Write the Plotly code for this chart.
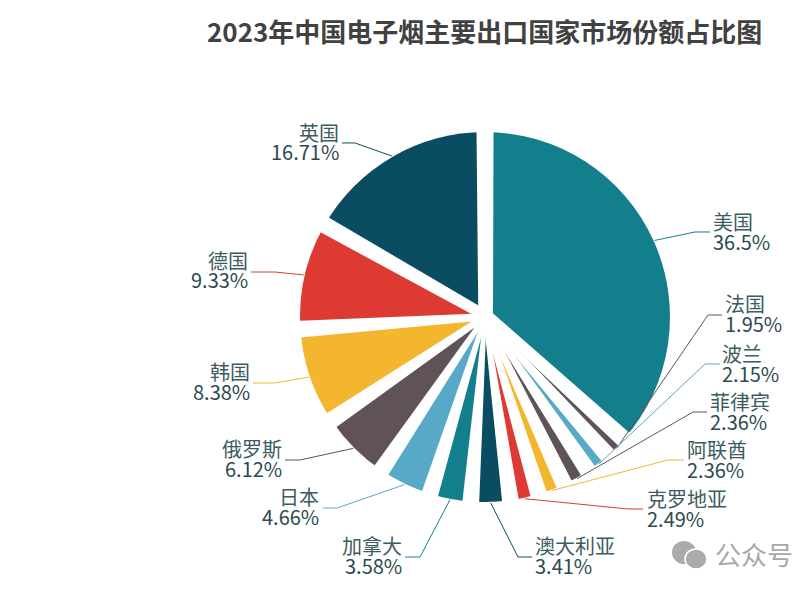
import math
import plotly.graph_objs as go

W = 802
H = 593

countries = ['美国', '法国', '波兰', '菲律宾', '阿联酋', '克罗地亚', '澳大利亚', '加拿大', '日本', '俄罗斯', '韩国', '德国', '英国']
shares = [36.5, 1.95, 2.15, 2.36, 2.36, 2.49, 3.41, 3.58, 4.66, 6.12, 8.38, 9.33, 16.71]

NAVY = '#0a4d63'
TEAL = '#137f8d'
BLUE = '#58a9c8'
GREY = '#5f5359'
YELLOW = '#f4b52f'
RED = '#dc3a33'
slice_colors = [TEAL, GREY, BLUE, GREY, YELLOW, RED, NAVY, TEAL, BLUE, GREY, YELLOW, RED, NAVY]

# label layout in pixels: text edge, text centre y, elbow x, elbow y, line end x
label_spots = [
    (711, 231, 695, 232, 710),
    (723, 313, 708, 315, 722),
    (720, 363, 705, 364, 720),
    (708, 411, 693, 412, 707),
    (685, 459, 668, 460, 684),
    (645, 508, 628, 509, 643),
    (533, 555, 518, 557, 532),
    (404, 555, 420, 557, 405),
    (321, 506, 337, 508, 323),
    (284, 458, 300, 460, 285),
    (252, 381, 275, 383, 253),
    (250, 270, 275, 272, 251),
    (341, 142, 355, 143, 342),
]

CX = 485
CY = 317
R = 185


def px(x):
    return x / W


def py(y):
    return 1 - y / H


def half_gap(share):
    # the gaps are nearly parallel beside big slices and taper beside small ones
    return min(8, max(1.65, share * 0.4))


def gap_shape(turn, before, after):
    # white strip laid over the border between two slices
    angle = math.radians(turn * 3.6)
    ux, uy = math.sin(angle), -math.cos(angle)
    vx, vy = math.cos(angle), math.sin(angle)
    far = R + 6
    rim = 8.3 * far / R
    corners = [(0, half_gap(after)), (far, rim), (far, -rim), (0, -half_gap(before))]
    points = [(CX + r * ux + s * vx, CY + r * uy + s * vy) for r, s in corners]
    path = 'M ' + ' L '.join('%.4f %.4f' % (px(x), py(y)) for x, y in points) + ' Z'
    return dict(type='path', path=path, xref='paper', yref='paper', fillcolor='white', line=dict(width=0))


fig = go.Figure(go.Pie(
    labels=countries,
    values=shares,
    sort=False,
    direction='clockwise',
    rotation=0,
    textinfo='none',
    hoverinfo='label+percent',
    showlegend=False,
    marker=dict(colors=slice_colors, line=dict(width=0)),
    domain=dict(x=[px(CX - R), px(CX + R)], y=[py(CY + R), py(CY - R)]),
))

shapes = []
annotations = []
done = 0
for i, share in enumerate(shares):
    shapes.append(gap_shape(done, shares[i - 1], share))
    done += share

done = 0
for name, share, color, spot in zip(countries, shares, slice_colors, label_spots):
    text_x, text_y, elbow_x, elbow_y, end_x = spot
    angle = math.radians((done + share / 2) * 3.6)
    done += share
    start_x = CX + (R + 1) * math.sin(angle)
    start_y = CY - (R + 1) * math.cos(angle)
    path = 'M %.4f %.4f L %.4f %.4f L %.4f %.4f' % (
        px(start_x), py(start_y), px(elbow_x), py(elbow_y), px(end_x), py(elbow_y))
    shapes.append(dict(type='path', path=path, xref='paper', yref='paper', line=dict(color=color, width=1)))
    side = 'left' if text_x > CX or name == '澳大利亚' else 'right'
    annotations.append(dict(x=px(text_x), y=py(text_y - 10), xref='paper', yref='paper', text=name, showarrow=False,
                            xanchor=side, yanchor='middle', font=dict(size=20, color='#3c5c61')))
    annotations.append(dict(x=px(text_x), y=py(text_y + 10), xref='paper', yref='paper', text='%g%%' % share, showarrow=False,
                            xanchor=side, yanchor='middle', font=dict(size=20, color='#2c4a50')))

# watermark in the lower right corner
shapes.append(dict(type='circle', xref='paper', yref='paper', x0=px(672), x1=px(696), y0=py(564), y1=py(541),
                   fillcolor='#ababab', line=dict(width=0)))
shapes.append(dict(type='circle', xref='paper', yref='paper', x0=px(685), x1=px(707), y0=py(569), y1=py(549),
                   fillcolor='#ababab', line=dict(color='white', width=1.5)))
annotations.append(dict(x=px(713), y=py(553), xref='paper', yref='paper', text='公众号', showarrow=False,
                        xanchor='left', yanchor='middle', font=dict(size=26, color='#a8a8a8')))

fig.update_layout(
    width=W,
    height=H,
    margin=dict(l=0, r=0, t=0, b=0),
    paper_bgcolor='white',
    font=dict(family='Noto Sans CJK SC'),
    title=dict(text='<b>2023年中国电子烟主要出口国家市场份额占比图</b>', x=px(207), xanchor='left', y=py(33), yanchor='middle',
               font=dict(size=26, color='#414141')),
    shapes=shapes,
    annotations=annotations,
)

fig.write_html("out.html", config=dict(displayModeBar=False),
               post_script="document.body.style.margin = '0'; document.body.style.overflow = 'hidden';")
